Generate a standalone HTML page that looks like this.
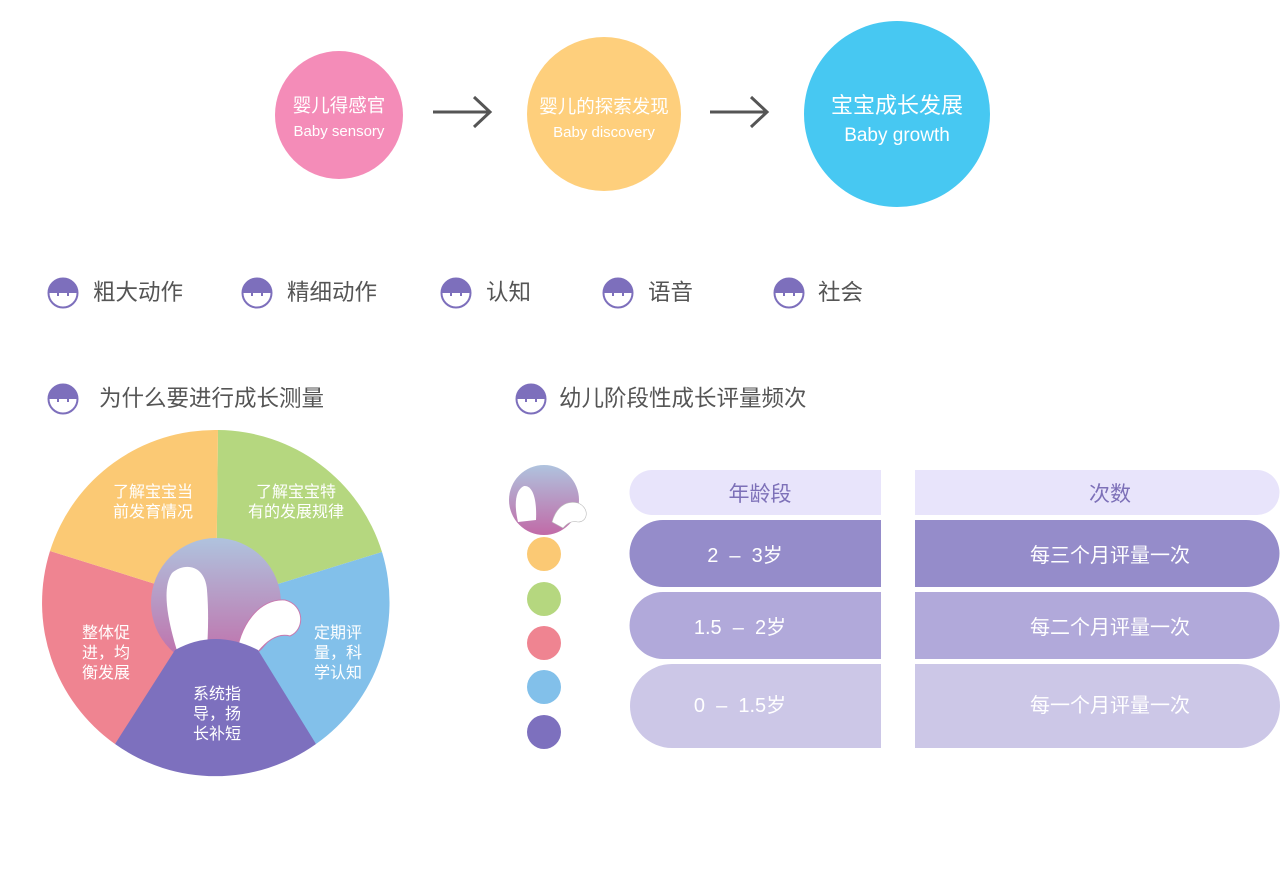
<!DOCTYPE html>
<html><head><meta charset="utf-8"><style>
body{margin:0;width:1280px;height:869px;background:#fff;position:relative;overflow:hidden;font-family:"Liberation Sans","Noto Sans CJK SC",sans-serif}
.a{position:absolute}
.lbl{position:absolute;font-size:22.5px;color:#555;line-height:30px}
.cell{position:absolute;display:flex;align-items:center;justify-content:center;color:#fff;font-size:20px}
</style></head><body>
<svg class="a" style="left:0;top:0" width="1280" height="869">
<defs>
<symbol id="ic" viewBox="0 0 32 32"><circle cx="16" cy="16" r="14.5" fill="#fff" stroke="#7d6fbc" stroke-width="2"/><path d="M1.5 16 A14.5 14.5 0 0 1 30.5 16 Z" fill="#7d6fbc"/><rect x="10" y="14" width="2" height="5" fill="#7d6fbc"/><rect x="20" y="14" width="2" height="5" fill="#7d6fbc"/></symbol>
<linearGradient id="g" x1="0" y1="0" x2="0" y2="1"><stop offset="0" stop-color="#afc3de"/><stop offset="1" stop-color="#c16aa7"/></linearGradient>
</defs>
<circle cx="339" cy="115" r="64" fill="#f48cb8"/>
<circle cx="604" cy="114" r="77" fill="#fecf7c"/>
<circle cx="897" cy="114" r="93" fill="#47c8f2"/>
<g stroke="#555" stroke-width="3" fill="none"><path d="M433 112H490M474 97L490 112L474 127"/><path d="M710 112H767M751 97L767 112L751 127"/></g>
<use href="#ic" x="47" y="277" width="32" height="32"/>
<use href="#ic" x="241" y="277" width="32" height="32"/>
<use href="#ic" x="440" y="277" width="32" height="32"/>
<use href="#ic" x="602" y="277" width="32" height="32"/>
<use href="#ic" x="773" y="277" width="32" height="32"/>
<use href="#ic" x="47" y="383" width="32" height="32"/>
<use href="#ic" x="515" y="383" width="32" height="32"/>
<path d="M216 603L218 430A173 173 0 0 1 382 552Z" fill="#b5d77f"/>
<path d="M216 603L382 552A173 173 0 0 1 316 744Z" fill="#82c0ea"/>
<path d="M216 603L115 744A173 173 0 0 1 50 551Z" fill="#ef8491"/>
<path d="M216 603L50 551A173 173 0 0 1 218 430Z" fill="#fbc974"/>
<circle cx="216" cy="603" r="65" fill="url(#g)"/>
<path d="M180 660C170 630 160 590 172 573C185 562 205 565 207 590C209 615 208 640 206 660Z" fill="#fff"/>
<path d="M236 660C238 625 260 598 285 600C305 605 305 630 290 636C275 632 262 645 252 660Z" fill="#fff" stroke="#c77bb0" stroke-width="1"/>
<path d="M115 744L175 650Q215 628 258 650L316 744A173 173 0 0 1 115 744Z" fill="#7d70be"/>
<circle cx="544" cy="500" r="35" fill="url(#g)"/>
<path d="M518 522C514 505 515 490 524 486C533 485 537 500 536 520Z" fill="#fff"/>
<path d="M552 522C556 508 565 500 578 503C590 508 588 522 578 522C570 520 566 525 563 528Z" fill="#fff" stroke="#bbb" stroke-width="0.6"/>
<circle cx="544" cy="554" r="17" fill="#fbc974"/>
<circle cx="544" cy="599" r="17" fill="#b5d77f"/>
<circle cx="544" cy="643" r="17" fill="#ef8491"/>
<circle cx="544" cy="687" r="17" fill="#82c0ea"/>
<circle cx="544" cy="732" r="17" fill="#7d70be"/>
<path d="M652 470H881V515H652A22.5 22.5 0 0 1 652 470Z" fill="#e8e4fb"/>
<path d="M915 470H1257A22.5 22.5 0 0 1 1257 515H915Z" fill="#e8e4fb"/>
<path d="M663 520H881V587H663A33.5 33.5 0 0 1 663 520Z" fill="#958cca"/>
<path d="M915 520H1246A33.5 33.5 0 0 1 1246 587H915Z" fill="#958cca"/>
<path d="M663 592H881V659H663A33.5 33.5 0 0 1 663 592Z" fill="#b1a9da"/>
<path d="M915 592H1246A33.5 33.5 0 0 1 1246 659H915Z" fill="#b1a9da"/>
<path d="M672 664H881V748H672A42 42 0 0 1 672 664Z" fill="#ccc7e7"/>
<path d="M915 664H1238A42 42 0 0 1 1238 748H915Z" fill="#ccc7e7"/>
</svg>
<div class="a" style="left:275px;top:94px;width:128px;text-align:center;color:#fff;font-size:18.5px;line-height:24px">婴儿得感官<br><span style="font-size:15px">Baby sensory</span></div>
<div class="a" style="left:527px;top:95px;width:154px;text-align:center;color:#fff;font-size:18.5px;line-height:24px">婴儿的探索发现<br><span style="font-size:15px">Baby discovery</span></div>
<div class="a" style="left:804px;top:92px;width:186px;text-align:center;color:#fff;font-size:22px;line-height:28px">宝宝成长发展<br><span style="font-size:19px">Baby growth</span></div>
<div class="lbl" style="left:93px;top:278px">粗大动作</div>
<div class="lbl" style="left:287px;top:278px">精细动作</div>
<div class="lbl" style="left:486px;top:278px">认知</div>
<div class="lbl" style="left:648px;top:278px">语音</div>
<div class="lbl" style="left:818px;top:278px">社会</div>
<div class="lbl" style="left:99px;top:384px">为什么要进行成长测量</div>
<div class="lbl" style="left:559px;top:384px">幼儿阶段性成长评量频次</div>
<div class="a" style="color:#fff;font-size:16px;line-height:20px;left:103px;top:483px;width:100px;text-align:center">了解宝宝当<br>前发育情况</div>
<div class="a" style="color:#fff;font-size:16px;line-height:20px;left:240px;top:483px;width:112px;text-align:center">了解宝宝特<br>有的发展规律</div>
<div class="a" style="color:#fff;font-size:16px;line-height:20px;left:76px;top:624px;width:60px;text-align:center">整体促<br>进，均<br>衡发展</div>
<div class="a" style="color:#fff;font-size:16px;line-height:20px;left:308px;top:624px;width:60px;text-align:center">定期评<br>量，科<br>学认知</div>
<div class="a" style="color:#fff;font-size:16px;line-height:20px;left:187px;top:685px;width:60px;text-align:center">系统指<br>导，扬<br>长补短</div>
<div class="cell" style="left:640px;top:470px;width:240px;height:45px;color:#7d70b8;font-size:21px">年龄段</div>
<div class="cell" style="left:930px;top:470px;width:360px;height:45px;color:#7d70b8;font-size:21px">次数</div>
<div class="cell" style="left:670px;top:520px;width:150px;height:67px">2 &nbsp;– &nbsp;3岁</div>
<div class="cell" style="left:930px;top:520px;width:360px;height:67px">每三个月评量一次</div>
<div class="cell" style="left:665px;top:592px;width:150px;height:67px">1.5 &nbsp;– &nbsp;2岁</div>
<div class="cell" style="left:930px;top:592px;width:360px;height:67px">每二个月评量一次</div>
<div class="cell" style="left:665px;top:664px;width:150px;height:78px">0 &nbsp;– &nbsp;1.5岁</div>
<div class="cell" style="left:930px;top:664px;width:360px;height:78px">每一个月评量一次</div>
</body></html>
